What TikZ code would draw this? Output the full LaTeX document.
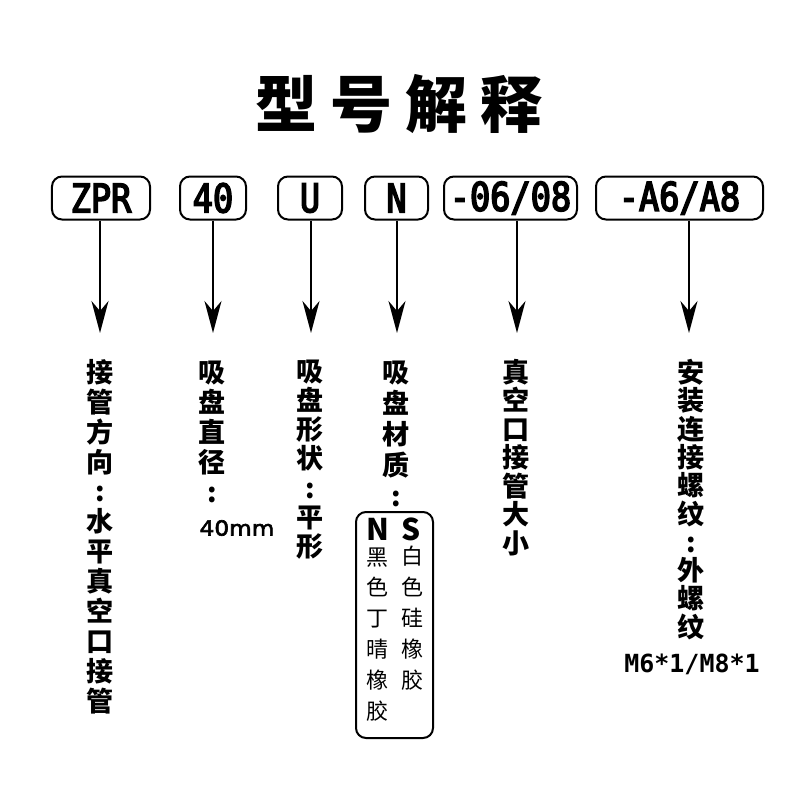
\documentclass[tikz,border=0pt]{standalone}
\usepackage{fontspec}
\usetikzlibrary{arrows.meta}
\newfontfamily\cjk{Noto Sans CJK SC}
\newfontfamily\codefont{DejaVu Sans Mono}[FakeStretch=0.85, FakeBold=4]
\newfontfamily\monofont{DejaVu Sans Mono}
\newfontfamily\sizefont{DejaVu Sans}[FakeStretch=1.12, FakeBold=3]

\tikzset{
    codebox/.style={draw, line width=0.4mm, rounded corners=2mm, inner sep=0pt, minimum height=8.6mm, font=\codefont\fontsize{22.5pt}{24pt}\selectfont},
    arr/.style={line width=0.4mm, -{Stealth[length=6.4mm, width=3.4mm, inset=2mm]}},
    vtext/.style={align=center, inner sep=0pt, font=\cjk\bfseries\fontsize{15.4pt}{#1}\selectfont},
    smalltext/.style={align=center, inner sep=0pt, font=\cjk\fontsize{12.5pt}{17.6pt}\selectfont}
}

\begin{document}
\begin{tikzpicture}[x=0.2mm, y=-0.2mm]
        \fill[white] (0,0) rectangle (800,800);
        \useasboundingbox (0,0) rectangle (800,800);

        % Title
            \node[inner sep=0pt, font=\cjk\bfseries\fontsize{35.3pt}{40pt}\selectfont] (title) at (399,104) {型\hspace{2.6mm}号\hspace{2.6mm}解\hspace{2.6mm}释};

            % Code parts
            \node[codebox, minimum width=19.6mm] (zpr) at (101,198) {ZPR};
            \node[codebox, minimum width=13.2mm] (dia) at (213,198) {40};
            \node[codebox, minimum width=12.8mm] (shape) at (310,198) {U};
            \node[codebox, minimum width=12.6mm] (mat) at (396.5,198) {N};
            \node[codebox, minimum width=26.6mm] (port) at (510.5,198) {-06/08};
            \node[codebox, minimum width=33.4mm] (thread) at (679.5,198) {-A6/A8};

            % Arrow tips
            \coordinate (t1) at (100,333);
            \coordinate (t2) at (213,333);
            \coordinate (t3) at (311,333);
            \coordinate (t4) at (397,333);
            \coordinate (t5) at (517,333);
            \coordinate (t6) at (689,333);

            % Arrows: code parts to their meaning
            \draw[arr] (zpr.south -| t1) -- (t1);
            \draw[arr] (dia.south -| t2) -- (t2);
            \draw[arr] (shape.south -| t3) -- (t3);
            \draw[arr] (mat.south -| t4) -- (t4);
            \draw[arr] (port.south -| t5) -- (t5);
            \draw[arr] (thread.south -| t6) -- (t6);

            % Meanings (vertical text)
            \node[vtext=17pt] (m1) at (100,536.5) {接\\管\\方\\向\\:\\水\\平\\真\\空\\口\\接\\管};
            \node[vtext=17.07pt] (m2) at (212,432) {吸\\盘\\直\\径\\:};
            \node[inner sep=0pt, font=\sizefont\fontsize{11.8pt}{14pt}\selectfont] (m2v) at (237,528) {40mm};
            \node[vtext=16.6pt] (m3) at (310,459.5) {吸\\盘\\形\\状\\:\\平\\形};
            \node[vtext=17.6pt] (m4) at (396,434) {吸\\盘\\材\\质\\:};
            \node[vtext=16.2pt] (m5) at (516,457.5) {真\\空\\口\\接\\管\\大\\小};
            \node[vtext=16.1pt] (m6) at (691,499.5) {安\\装\\连\\接\\螺\\纹\\:\\外\\螺\\纹};
            \node[inner sep=0pt, font=\monofont\bfseries\fontsize{14.2pt}{16pt}\selectfont] (m6v) at (692,664) {M6*1/M8*1};

            % Material options
            \node[draw, line width=0.4mm, rounded corners=2mm, minimum width=15.4mm, minimum height=45.2mm] (matbox) at (394.5,625) {};
            \node[inner sep=0pt, font=\cjk\bfseries\fontsize{17pt}{20pt}\selectfont] (nl) at (378,529) {N};
            \node[inner sep=0pt, font=\cjk\bfseries\fontsize{17pt}{20pt}\selectfont] (sl) at (411,529) {S};
            \node[smalltext] (nt) at (377,634.5) {黑\\色\\丁\\晴\\橡\\胶};
            \node[smalltext] (st) at (412,618.5) {白\\色\\硅\\橡\\胶};
    \end{tikzpicture}
\end{document}
